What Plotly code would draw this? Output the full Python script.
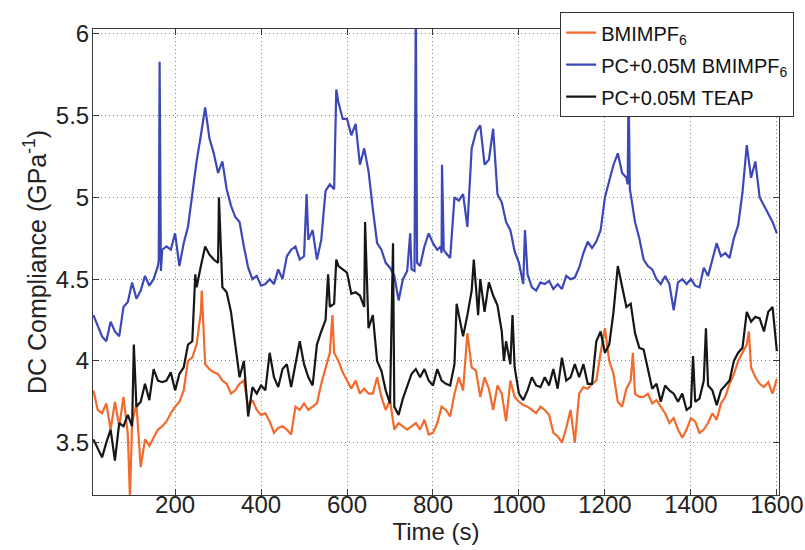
import plotly.graph_objects as go

# time grid (s)
time_s = list(range(10, 1601, 10))

bmimpf6 = [
    3.82, 3.70, 3.68, 3.74, 3.58, 3.75, 3.60, 3.78, 3.55, 3.62,
    3.74, 3.35, 3.52, 3.48, 3.53, 3.58, 3.60, 3.63, 3.68, 3.72,
    3.75, 3.82, 4.00, 4.02, 4.10, 4.30, 3.98, 3.95, 3.93, 3.92,
    3.88, 3.86, 3.80, 3.82, 3.86, 3.88, 3.72, 3.76, 3.70, 3.67,
    3.68, 3.63, 3.56, 3.59, 3.60, 3.58, 3.55, 3.72, 3.70, 3.74,
    3.70, 3.72, 3.74, 3.86, 3.95, 4.05, 4.05, 4.00, 3.93, 3.88,
    3.83, 3.88, 3.80, 3.83, 3.80, 3.80, 3.90, 3.78, 3.70, 3.76,
    3.58, 3.62, 3.60, 3.58, 3.60, 3.62, 3.58, 3.64, 3.55, 3.56,
    3.62, 3.72, 3.70, 3.66, 3.80, 3.90, 3.82, 4.17, 3.96, 3.94,
    3.78, 3.90, 3.83, 3.70, 3.85, 3.80, 3.63, 3.88, 3.78, 3.75,
    3.73, 3.72, 3.70, 3.68, 3.72, 3.70, 3.67, 3.56, 3.54, 3.50,
    3.59, 3.70, 3.50, 3.80, 3.84, 3.83, 3.86, 3.88, 4.05, 4.20,
    4.00, 3.92, 3.75, 3.72, 3.83, 3.88, 3.80, 3.78, 3.78, 3.80,
    3.74, 3.76, 3.72, 3.68, 3.62, 3.65, 3.58, 3.53, 3.58, 3.65,
    3.63, 3.56, 3.58, 3.62, 3.68, 3.64, 3.74, 3.78, 3.86, 3.92,
    4.00, 4.05, 4.10, 3.96, 3.90, 3.86, 3.84, 3.87, 3.80, 3.89,
]
bmimpf6_extra_t = [95, 262, 566, 1265, 1535]
bmimpf6_extra_v = [3.17, 4.43, 4.28, 4.05, 4.18]

pc_bmimpf6 = [
    4.28, 4.22, 4.15, 4.12, 4.24, 4.18, 4.15, 4.33, 4.36, 4.48,
    4.38, 4.43, 4.52, 4.46, 4.50, 4.58, 4.68, 4.70, 4.68, 4.78,
    4.58, 4.72, 4.82, 5.03, 5.22, 5.38, 5.55, 5.36, 5.27, 5.15,
    5.22, 5.05, 4.95, 4.88, 4.85, 4.70, 4.57, 4.50, 4.52, 4.46,
    4.47, 4.50, 4.47, 4.56, 4.50, 4.64, 4.68, 4.70, 4.62, 4.64,
    4.74, 4.80, 4.62, 4.74, 5.04, 5.08, 5.05, 5.58, 5.48, 5.48,
    5.38, 5.45, 5.20, 5.30, 5.16, 4.93, 4.72, 4.68, 4.60, 4.57,
    4.52, 4.37, 4.50, 4.55, 4.56, 6.20, 4.58, 4.70, 4.78, 4.72,
    4.68, 4.66, 4.66, 4.63, 5.00, 4.98, 5.02, 4.82, 5.30, 5.40,
    5.44, 5.20, 5.23, 5.42, 5.02, 4.97, 4.85, 4.80, 4.67, 4.60,
    4.47, 4.53, 4.45, 4.43, 4.48, 4.47, 4.49, 4.44, 4.47, 4.44,
    4.52, 4.50, 4.51, 4.57, 4.66, 4.73, 4.69, 4.73, 4.80, 5.00,
    5.10, 5.20, 5.27, 5.15, 5.12, 5.02, 4.85, 4.75, 4.62, 4.58,
    4.56, 4.50, 4.47, 4.52, 4.47, 4.31, 4.48, 4.50, 4.47, 4.50,
    4.46, 4.45, 4.57, 4.52, 4.62, 4.72, 4.64, 4.66, 4.63, 4.75,
    4.83, 5.03, 5.32, 5.12, 5.22, 5.00, 4.95, 4.90, 4.85, 4.78,
]
pc_bmimpf6_extra_t = [162, 164, 167, 506, 575, 747, 757, 763, 818, 821, 825, 1014, 1253, 1255, 1258]
pc_bmimpf6_extra_v = [4.62, 5.83, 4.55, 5.02, 5.66, 4.78, 4.55, 4.60, 4.70, 5.20, 4.68, 4.80, 5.08, 5.70, 5.05]

pc_teap = [
    3.52, 3.46, 3.41, 3.50, 3.58, 3.39, 3.62, 3.60, 3.67, 3.60,
    3.72, 3.75, 3.86, 3.76, 3.95, 3.88, 3.87, 3.88, 3.93, 3.82,
    3.92, 3.96, 4.10, 4.12, 4.45, 4.58, 4.70, 4.65, 4.62, 4.60,
    4.45, 4.42, 4.30, 4.10, 3.90, 4.00, 3.66, 3.84, 3.80, 3.85,
    3.82, 4.05, 3.90, 3.84, 3.95, 3.98, 3.84, 3.98, 4.12, 3.98,
    3.90, 3.85, 4.10, 4.18, 4.25, 4.33, 4.35, 4.58, 4.56, 4.54,
    4.41, 4.42, 4.40, 4.33, 4.20, 4.28, 4.00, 3.94, 3.82, 3.74,
    3.72, 3.67, 3.77, 3.85, 3.92, 3.95, 3.90, 3.95, 3.88, 3.85,
    3.95, 3.88, 3.86, 3.85, 3.98, 4.28, 4.15, 4.28, 4.43, 4.45,
    4.50, 4.30, 4.48, 4.40, 4.34, 4.18, 4.12, 3.98, 3.96, 3.80,
    3.76, 3.82, 3.90, 3.85, 3.84, 3.90, 3.85, 3.95, 3.83, 4.02,
    3.88, 3.90, 3.98, 3.90, 3.98, 3.86, 3.86, 4.12, 4.18, 4.05,
    4.10, 4.30, 4.58, 4.45, 4.33, 4.35, 4.17, 4.08, 4.07, 3.95,
    3.83, 3.86, 3.75, 3.85, 3.82, 3.80, 3.75, 3.80, 3.70, 3.72,
    3.75, 3.77, 3.88, 3.85, 3.82, 3.73, 3.82, 3.85, 3.88, 4.00,
    4.05, 4.08, 4.30, 4.24, 4.27, 4.26, 4.18, 4.30, 4.33, 4.06,
]
pc_teap_extra_t = [104, 247, 302, 556, 575, 642, 707, 855, 895, 905, 965, 985, 1405, 1435]
pc_teap_extra_v = [4.10, 4.53, 5.00, 4.53, 4.62, 4.85, 4.72, 4.35, 4.62, 4.28, 4.00, 4.28, 4.03, 4.20]

x_ticks = [200, 400, 600, 800, 1000, 1200, 1400, 1600]
y_ticks = [3.5, 4, 4.5, 5, 5.5, 6]
y_tick_text = ["3.5", "4", "4.5", "5", "5.5", "6"]


def merged(t, v, et, ev):
    pairs = sorted(list(zip(t, v)) + list(zip(et, ev)))
    return [p[0] for p in pairs], [p[1] for p in pairs]


FONT = "Liberation Sans, Arial, Helvetica, sans-serif"

series = [
    ("BMIMPF<sub>6</sub>", bmimpf6, bmimpf6_extra_t, bmimpf6_extra_v, "#F26A2C"),
    ("PC+0.05M BMIMPF<sub>6</sub>", pc_bmimpf6, pc_bmimpf6_extra_t, pc_bmimpf6_extra_v, "#3C47B8"),
    ("PC+0.05M TEAP", pc_teap, pc_teap_extra_t, pc_teap_extra_v, "#161616"),
]

fig = go.Figure()
for i, (name, vals, et, ev, color) in enumerate(series):
    xs, ys = merged(time_s, vals, et, ev)
    fig.add_trace(go.Scatter(x=xs, y=ys, mode="lines", name=name,
                             legendgroup="g%d" % i,
                             line=dict(color=color, width=2.2)))

axis_common = dict(
    showline=True, linecolor="#3a3a3a", linewidth=1, mirror="ticks",
    ticks="inside", ticklen=6, tickcolor="#3a3a3a",
    showgrid=True, gridcolor="#8a8a8a", griddash="1px,3px", gridwidth=1,
    zeroline=False, tickfont=dict(family=FONT, size=24, color="#222"),
)

fig.update_layout(
    width=805, height=550,
    margin=dict(l=93, r=26, t=29, b=55, autoexpand=False),
    paper_bgcolor="white", plot_bgcolor="white",
    font=dict(family=FONT, color="#222"),
    xaxis=dict(range=[9, 1605], tickvals=x_ticks, ticklabelstandoff=-12,
               title=dict(text="Time (s)", font=dict(family=FONT, size=24), standoff=5),
               **axis_common),
    yaxis=dict(range=[3.18, 6.03], tickvals=y_ticks, ticktext=y_tick_text,
               ticklabelstandoff=-2,
               title=dict(text="DC Compliance (GPa<sup>-1</sup>)", font=dict(family=FONT, size=25), standoff=2),
               **axis_common),
    legend=dict(x=0.681, y=1.036, xanchor="left", yanchor="top",
                bgcolor="white", bordercolor="#333", borderwidth=1,
                font=dict(family=FONT, size=20, color="#111"), itemwidth=30,
                tracegroupgap=3),
    showlegend=True,
)

fig.write_html("out.html", config={"displayModeBar": False},
               post_script="document.body.style.margin='0';document.body.style.overflow='hidden';")
